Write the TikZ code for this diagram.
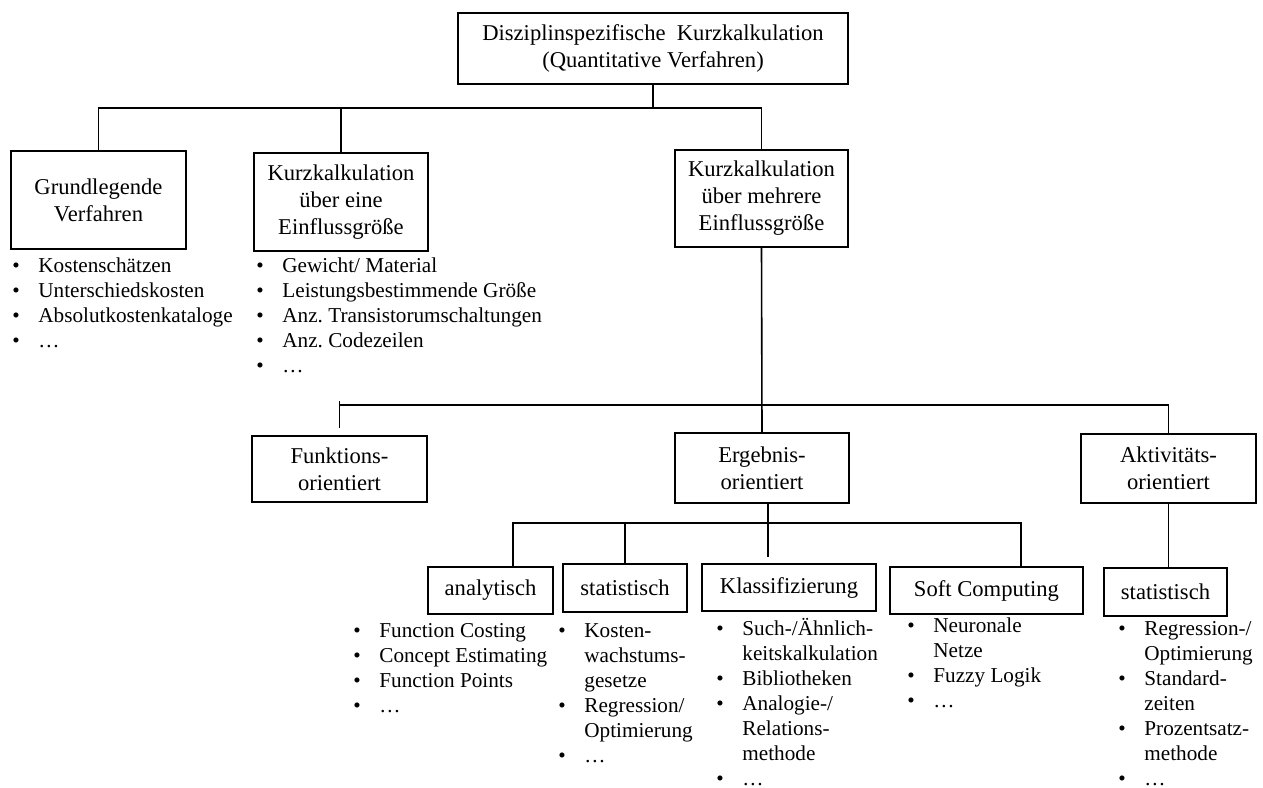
\documentclass[tikz,border=0pt]{standalone}
\usepackage{fontspec}
\setmainfont{Liberation Serif}
\usepackage{tikz}
\usetikzlibrary{calc}
\frenchspacing
\tikzset{
	kasten/.style={draw, line width=0.8pt, align=center, inner sep=0pt, font=\fontsize{11.3}{13.5}\selectfont},
	liste/.style={anchor=base west, inner sep=0pt, font=\fontsize{10.6}{12.5}\selectfont},
	ast/.style={line width=0.8pt}
}
\newcommand{\pkt}{\makebox[13pt][l]{\textbullet}}

\begin{document}
\begin{tikzpicture}[x=0.5pt,y=-0.5pt]
		\useasboundingbox (0,0) rectangle (1263,787);
		\node[kasten, minimum width=195pt, minimum height=35.5pt] (dkk) at (653,48.5) {Disziplinspezifische\ \ Kurzkalkulation\\(Quantitative Verfahren)};
		\node[kasten, minimum width=87.5pt, minimum height=49pt] (grund) at (98.5,200) {Grundlegende\\Verfahren};
		\node[kasten, minimum width=87pt, minimum height=49pt] (einfl) at (341,202) {Kurzkalkulation\\über eine\\Einflussgröße};
		\node[kasten, minimum width=86.5pt, minimum height=48.5pt] (mehr) at (761.5,198.5) {Kurzkalkulation\\über mehrere\\Einflussgröße};
		\node[kasten, minimum width=87.5pt, minimum height=33pt] (funk) at (339.5,469) {Funktions-\\orientiert};
		\node[kasten, minimum width=87pt, minimum height=35pt] (ergeb) at (762,468) {Ergebnis-\\orientiert};
		\node[kasten, minimum width=87.5pt, minimum height=34.5pt] (aktiv) at (1168.5,468.5) {Aktivitäts-\\orientiert};
		\node[kasten, minimum width=62.5pt, minimum height=23.5pt] (analyt) at (490.5,590.5) {analytisch};
		\node[kasten, minimum width=62pt, minimum height=24pt] (stat) at (625,588) {statistisch};
		\node[kasten, minimum width=87pt, minimum height=23.5pt] (klass) at (789,587.5) {Klassifizierung};
		\node[kasten, minimum width=96.5pt, minimum height=23.5pt] (soft) at (986.5,590.5) {Soft Computing};
		\node[kasten, minimum width=61.5pt, minimum height=24pt] (stataktiv) at (1165.5,592) {statistisch};

		\coordinate (bus1) at (0,108);
		\coordinate (bus2) at (0,405);
		\coordinate (tick) at (0,401);
		\coordinate (bus3l) at (513,523);
		\coordinate (bus3r) at (1021,523);
		\coordinate (stub) at (768,557);

		\draw[ast] (dkk.south) -- (dkk.south |- bus1);
		\draw[ast] (grund.north) -- (grund.north |- bus1) -| (mehr.north);
		\draw[ast] (einfl.north) -- (einfl.north |- bus1);
		\draw[ast] (mehr.south) -- (ergeb.north);
		\draw[ast] (funk.north |- bus2) -| (aktiv.north);
		\draw[ast, shorten >=3.5pt] (funk.north |- tick) -- (funk.north);
		\draw[ast] (aktiv.south) -- (aktiv.south |- stataktiv.north);
		\draw[ast] (analyt.north -| bus3l) -- (bus3l) -- (bus3r) -- (soft.north -| bus3r);
		\draw[ast] (stat.north) -- (stat.north |- bus3l);
		\draw[ast] (ergeb.south -| stub) -- (stub);

		\node[liste] (lgrund) at (12,272) {\begin{tabular}[t]{@{}l@{}l@{}}
				\pkt & Kostenschätzen\\ \pkt & Unterschiedskosten\\ \pkt & Absolutkostenkataloge\\ \pkt & …
			\end{tabular}};
		\node[liste] (leinfl) at (256,272) {\begin{tabular}[t]{@{}l@{}l@{}}
				\pkt & Gewicht/ Material\\ \pkt & Leistungsbestimmende Größe\\ \pkt & Anz. Transistorumschaltungen\\ \pkt & Anz. Codezeilen\\ \pkt & …
			\end{tabular}};
		\node[liste] (lanalyt) at (353,637) {\begin{tabular}[t]{@{}l@{}l@{}}
				\pkt & Function Costing\\ \pkt & Concept Estimating\\ \pkt & Function Points\\ \pkt & …
			\end{tabular}};
		\node[liste] (lstat) at (558,637) {\begin{tabular}[t]{@{}l@{}l@{}}
				\pkt & Kosten-\\ & wachstums-\\ & gesetze\\ \pkt & Regression/\\ & Optimierung\\ \pkt & …
			\end{tabular}};
		\node[liste] (lklass) at (716,635) {\begin{tabular}[t]{@{}l@{}l@{}}
				\pkt & Such-/Ähnlich-\\ & keitskalkulation\\ \pkt & Bibliotheken\\ \pkt & Analogie-/\\ & Relations-\\ & methode\\ \pkt & …
			\end{tabular}};
		\node[liste] (lsoft) at (907,632) {\begin{tabular}[t]{@{}l@{}l@{}}
				\pkt & Neuronale\\ & Netze\\ \pkt & Fuzzy Logik\\ \pkt & …
			\end{tabular}};
		\node[liste] (lstataktiv) at (1118,635) {\begin{tabular}[t]{@{}l@{}l@{}}
				\pkt & Regression-/\\ & Optimierung\\ \pkt & Standard-\\ & zeiten\\ \pkt & Prozentsatz-\\ & methode\\ \pkt & …
			\end{tabular}};
	\end{tikzpicture}
\end{document}
